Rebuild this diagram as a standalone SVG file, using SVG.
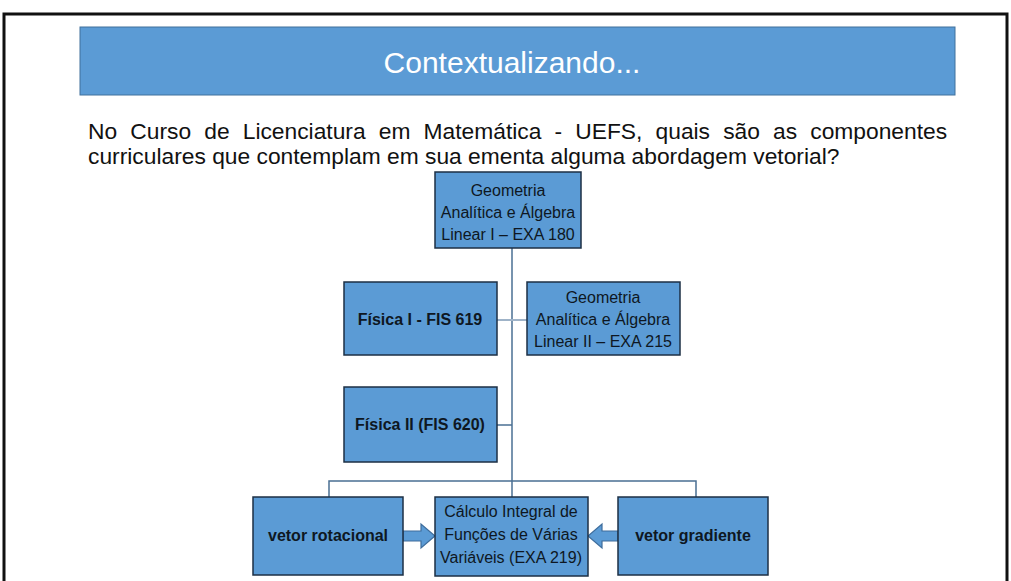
<svg xmlns="http://www.w3.org/2000/svg" width="1011" height="581" viewBox="0 0 1011 581">
<style>
.box{fill:#5B9BD5;stroke:#1c2f44;stroke-width:1.5}
.t{font-family:"Liberation Sans",Arial,sans-serif;font-size:16px;fill:#0e1722;text-anchor:middle}
.b{font-weight:bold}
.ln{stroke:#4a6f93;stroke-width:1.5;fill:none}
.arr{fill:#5B9BD5;stroke:#3e6d9c;stroke-width:1.2}
</style>
<rect x="0" y="0" width="1011" height="581" fill="#fff"/>
<rect x="4" y="14" width="1003" height="600" fill="none" stroke="#111" stroke-width="3"/>
<g id="header">
<rect x="80" y="27" width="875" height="68" fill="#5B9BD5" stroke="#41719C" stroke-width="1"/>
<text x="512" y="73" font-family="'Liberation Sans',Arial,sans-serif" font-size="30" fill="#fff" text-anchor="middle">Contextualizando...</text>
</g>
<g id="question" font-family="'Liberation Sans',Arial,sans-serif" font-size="22.8" fill="#111">
<text x="88" y="139" word-spacing="6.8">No Curso de Licenciatura em Matemática - UEFS, quais são as componentes</text>
<text x="88" y="164">curriculares que contemplam em sua ementa alguma abordagem vetorial?</text>
</g>
<g id="connectors">
<line class="ln" x1="512" y1="248" x2="512" y2="497"/>
<line x1="497" y1="320" x2="527" y2="320" stroke="#9fb3c8" stroke-width="2"/>
<line class="ln" x1="497" y1="425" x2="512" y2="425"/>
<polyline class="ln" points="329,497 329,481 696,481 696,497"/>
<path class="arr" d="M403,531 L421,531 L421,524 L435,536 L421,548 L421,541 L403,541 Z"/>
<path class="arr" d="M618,531 L602,531 L602,524 L588,536 L602,548 L602,541 L618,541 Z"/>
</g>
<g id="geo1">
<rect class="box" x="435" y="172" width="146" height="76"/>
<text class="t" x="508" y="196">Geometria</text>
<text class="t" x="508" y="218">Analítica e Álgebra</text>
<text class="t" x="508" y="240">Linear I – EXA 180</text>
</g>
<g id="fis1">
<rect class="box" x="344" y="282" width="153" height="73"/>
<text class="t b" x="420" y="325">Física I - FIS 619</text>
</g>
<g id="geo2">
<rect class="box" x="527" y="282" width="153" height="73"/>
<text class="t" x="603" y="303">Geometria</text>
<text class="t" x="603" y="325">Analítica e Álgebra</text>
<text class="t" x="603" y="347">Linear II – EXA 215</text>
</g>
<g id="fis2">
<rect class="box" x="344" y="387" width="153" height="75"/>
<text class="t b" x="420" y="430">Física II (FIS 620)</text>
</g>
<g id="rot">
<rect class="box" x="253" y="497" width="150" height="78" stroke="none"/>
<text class="t b" x="328" y="541">vetor rotacional</text>
</g>
<g id="calc">
<rect class="box" x="435" y="497" width="153" height="79" stroke-width="2"/>
<text class="t" x="511" y="517">Cálculo Integral de</text>
<text class="t" x="511" y="540">Funções de Várias</text>
<text class="t" x="511" y="563">Variáveis (EXA 219)</text>
</g>
<g id="grad">
<rect class="box" x="618" y="497" width="150" height="78" stroke="none"/>
<text class="t b" x="693" y="541">vetor gradiente</text>
</g>
</svg>
